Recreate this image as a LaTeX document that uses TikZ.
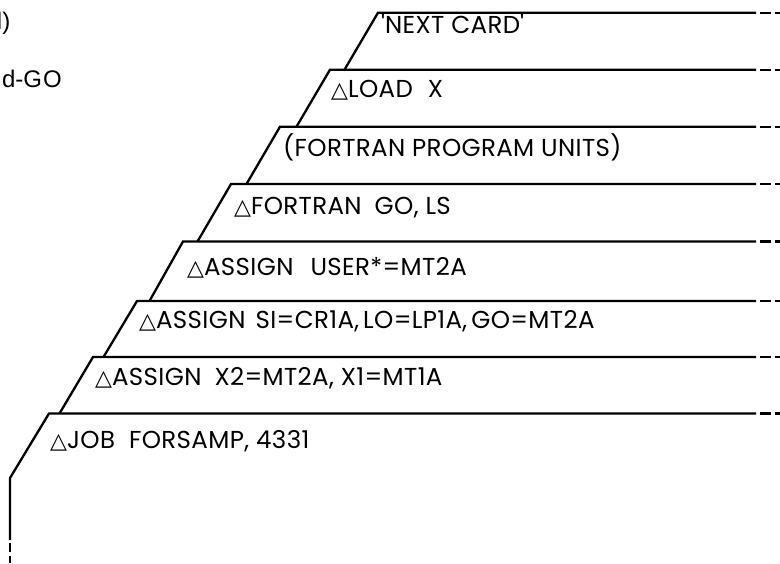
\documentclass[tikz,border=0pt]{standalone}
\usepackage{fontspec}
\setmainfont{Poppins}
\newfontfamily\cardfont[LetterSpace=1.5]{Poppins}
\newfontfamily\dejavu{DejaVu Sans}
\newfontfamily\arialf{Liberation Sans}
\newcommand{\tri}{{\dejavu\fontsize{22}{24}\selectfont △}}
\newcommand{\wgap}[1]{\hspace{#1pt}}
\tikzset{
  edge/.style={line width=2.3pt, line join=miter},
  tail/.style={line width=2.3pt, dash pattern=on 11pt off 4pt},
  cardtext/.style={anchor=base west, inner sep=0pt, font=\cardfont\fontsize{24.5}{26}\selectfont},
  cuttext/.style={anchor=base east, inner sep=0pt, font=\arialf\fontsize{24}{26}\selectfont}
}
\begin{document}
\begin{tikzpicture}[x=1pt,y=-1pt]
\useasboundingbox (0,0) rectangle (780,563);
% cut-off texts at top left
\node[cuttext] (t1) at (10.5,29) {l)};
\node[cuttext] (t2) at (62,87.5) {d-G\kern1pt O};
% card top edges and left slants
\foreach \y/\x/\yn in {12.7/378/69.7, 69.7/330/126.7, 126.7/280/184, 184/231/241.5, 241.5/183/301, 301/137/357, 357/93/413.5}{
  \draw[edge] (756,\y) -- (\x,\y) -- ({\x-33.5},\yn);
  \draw[tail] (760,\y) -- (780,\y);
}
\draw[edge] (756,413.5) -- (49,413.5) -- (10,478) -- (10,540);
\draw[tail] (760,413.5) -- (780,413.5);
\draw[line width=2.3pt, dash pattern=on 9pt off 4pt] (10,543) -- (10,563);
% card texts
\node[cardtext] (c1) at (381,33) {\textquotesingle NEXT CARD\textquotesingle};
\node[cardtext] (c2) at (331,97) {\tri LOAD\wgap{15}X};
\node[cardtext] (c3) at (283,156) {(FORTRAN PROGRAM UNITS)};
\node[cardtext] (c4) at (234,214) {\tri FORTRAN\wgap{13}GO, LS};
\node[cardtext] (c5) at (187,275) {\tri ASSIGN\wgap{17}USER*=MT2A};
\node[cardtext] (c6) at (139,328) {\tri ASSIGN\wgap{10}SI=CR1A,\wgap{4}LO=LP1A,\wgap{4}GO=MT2A};
\node[cardtext] (c7) at (95,385) {\tri ASSIGN\wgap{13}X2=MT2A, X1=MT1A};
\node[cardtext] (c8) at (50,448) {\tri JOB\wgap{14}FORSAMP,\wgap{7}4331};
\end{tikzpicture}
\end{document}
